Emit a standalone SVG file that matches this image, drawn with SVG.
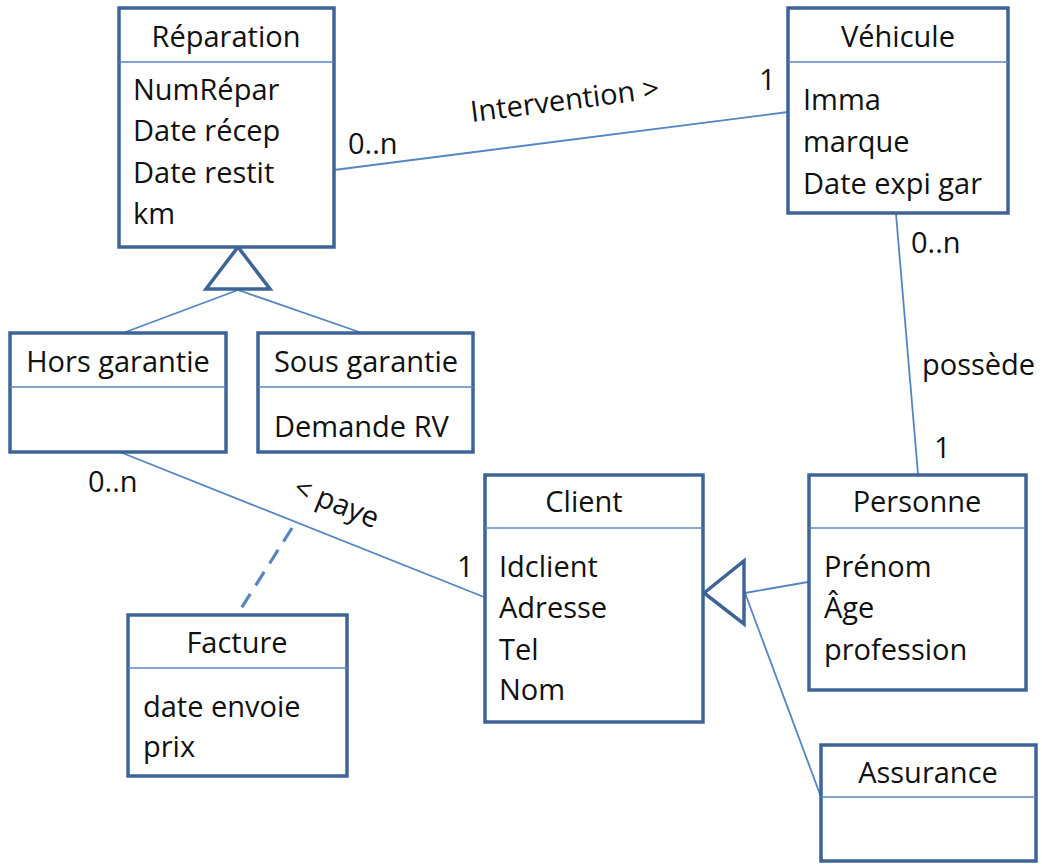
<svg xmlns="http://www.w3.org/2000/svg" width="1042" height="864" viewBox="0 0 1042 864">
<style>
.box{fill:#fff;stroke:#3e6497;stroke-width:3.5}
.div{stroke:#5a86c0;stroke-width:1.6}
.t{font-family:"Open Sans","Noto Sans",sans-serif;font-size:29px;fill:#111}
.c{text-anchor:middle}
.ln{stroke:#5585c2;stroke-width:1.8;fill:none}
.dash{stroke:#5585c2;stroke-width:3.2;fill:none;stroke-dasharray:16 10}
.tri{fill:#fff;stroke:#3e6497;stroke-width:3.5;stroke-linejoin:miter}
</style>
<rect width="1042" height="864" fill="#fff"/>
<g id="connectors">
<line class="ln" x1="334" y1="170" x2="788" y2="112"/>
<line class="ln" x1="896" y1="214" x2="918" y2="474"/>
<line class="ln" x1="120" y1="452" x2="484" y2="597"/>
<line class="dash" x1="292" y1="528" x2="237" y2="615"/>
<line class="ln" x1="238" y1="290" x2="123" y2="333"/>
<line class="ln" x1="238" y1="290" x2="362" y2="333"/>
<line class="ln" x1="808" y1="582" x2="745" y2="593"/>
<line class="ln" x1="745" y1="593" x2="821" y2="797"/>
<text class="t" x="348" y="154">0..n</text>
<text class="t" x="759" y="90">1</text>
<text class="t c" x="566" y="110" transform="rotate(-7.3 566 110)">Intervention &gt;</text>
<text class="t" x="911" y="253">0..n</text>
<text class="t" x="922" y="375">possède</text>
<text class="t" x="934" y="458">1</text>
<text class="t" x="88" y="492">0..n</text>
<text class="t c" x="333" y="512" transform="rotate(22 333 512)">&lt; paye</text>
<text class="t" x="457" y="577">1</text>
<polygon class="tri" points="238,247 206,289 270,289"/>
<polygon class="tri" points="704,593 744,561 744,624"/>
</g>
<g id="reparation">
<rect class="box" x="119" y="8" width="215" height="239"/>
<line class="div" x1="119" y1="62" x2="334" y2="62"/>
<text class="t c" x="226" y="47">Réparation</text>
<text class="t" x="133" y="100">NumRépar</text>
<text class="t" x="133" y="141">Date récep</text>
<text class="t" x="133" y="183">Date restit</text>
<text class="t" x="133" y="224">km</text>
</g>
<g id="vehicule">
<rect class="box" x="788" y="8" width="220" height="205"/>
<line class="div" x1="788" y1="62" x2="1008" y2="62"/>
<text class="t c" x="898" y="47">Véhicule</text>
<text class="t" x="803" y="110">Imma</text>
<text class="t" x="803" y="152">marque</text>
<text class="t" x="803" y="194">Date expi gar</text>
</g>
<g id="hors-garantie">
<rect class="box" x="10" y="333" width="216" height="119"/>
<line class="div" x1="10" y1="387" x2="226" y2="387"/>
<text class="t c" x="118" y="372">Hors garantie</text>
</g>
<g id="sous-garantie">
<rect class="box" x="258" y="333" width="215" height="119"/>
<line class="div" x1="258" y1="387" x2="473" y2="387"/>
<text class="t c" x="366" y="372">Sous garantie</text>
<text class="t" x="274" y="437">Demande RV</text>
</g>
<g id="client">
<rect class="box" x="485" y="475" width="218" height="247"/>
<line class="div" x1="485" y1="528" x2="703" y2="528"/>
<text class="t c" x="584" y="512">Client</text>
<text class="t" x="499" y="577">Idclient</text>
<text class="t" x="499" y="618">Adresse</text>
<text class="t" x="499" y="660">Tel</text>
<text class="t" x="499" y="700">Nom</text>
</g>
<g id="personne">
<rect class="box" x="809" y="475" width="217" height="215"/>
<line class="div" x1="809" y1="528" x2="1026" y2="528"/>
<text class="t c" x="917" y="512">Personne</text>
<text class="t" x="824" y="577">Prénom</text>
<text class="t" x="824" y="618">Âge</text>
<text class="t" x="824" y="660">profession</text>
</g>
<g id="facture">
<rect class="box" x="128" y="615" width="219" height="161"/>
<line class="div" x1="128" y1="668" x2="347" y2="668"/>
<text class="t c" x="237" y="653">Facture</text>
<text class="t" x="143" y="717">date envoie</text>
<text class="t" x="143" y="757">prix</text>
</g>
<g id="assurance">
<rect class="box" x="821" y="745" width="215" height="116"/>
<line class="div" x1="821" y1="797" x2="1036" y2="797"/>
<text class="t c" x="928" y="783">Assurance</text>
</g>
</svg>
